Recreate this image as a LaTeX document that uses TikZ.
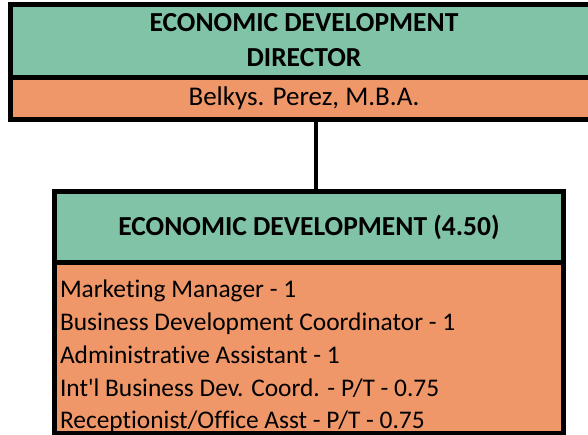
\documentclass[tikz,border=0pt]{standalone}
\usepackage{fontspec}
\setmainfont{Carlito}[Ligatures=NoCommon]
\usetikzlibrary{positioning}
\definecolor{boxgreen}{RGB}{128,195,167}
\definecolor{boxorange}{RGB}{240,151,106}
\begin{document}
\begin{tikzpicture}[x=1pt,y=-1pt,
  cell/.style={inner sep=0pt, outer sep=0pt, align=center},
  head/.style={cell, fill=boxgreen, font=\fontsize{27.5}{36}\selectfont\bfseries},
  body/.style={cell, fill=boxorange},
  boxline/.style={line width=5pt}]
\useasboundingbox (0,0) rectangle (588,435);
% director, cut off at the right edge
\node[head, minimum width=577.5pt, minimum height=73pt, anchor=north west] (dirtitle) at (10.5,4.5) {\hspace*{9.5pt}ECONOMIC DEVELOPMENT\\[-1pt]\hspace*{9.5pt}DIRECTOR\rule[-3pt]{0pt}{3pt}};
\node[body, minimum width=577.5pt, minimum height=42pt, font=\fontsize{27}{30}\selectfont, below=0pt of dirtitle] (dirname) {\hspace*{9.5pt}Belkys. Perez, M.B.A.};
\draw[boxline] (dirtitle.north east) -- (dirtitle.north west) -- (dirname.south west) -- (dirname.south east);
\draw[boxline] (dirtitle.south west) -- (dirtitle.south east);
% division
\node[head, boxline, draw, minimum width=509pt, minimum height=71pt, anchor=north west] (edtitle) at (54.5,191.5) {ECONOMIC DEVELOPMENT (4.50)};
\node[body, boxline, draw, minimum width=509pt, minimum height=170.5pt, below=0pt of edtitle] (edstaff) {};
\node[cell, align=left, anchor=north west, font=\fontsize{25.4}{32.8}\selectfont] (stafflist) at ([xshift=5.5pt, yshift=-17.5pt]edstaff.north west) {Marketing Manager - 1\\Business Development Coordinator - 1\\Administrative Assistant - 1\\Int\textquotesingle l Business Dev. Coord. - P/T - 0.75\\Receptionist/Office Asst - P/T - 0.75};
\coordinate (conn) at (316,0);
\draw[line width=4pt] (dirname.south -| conn) -- (conn |- edtitle.north);
\end{tikzpicture}
\end{document}
